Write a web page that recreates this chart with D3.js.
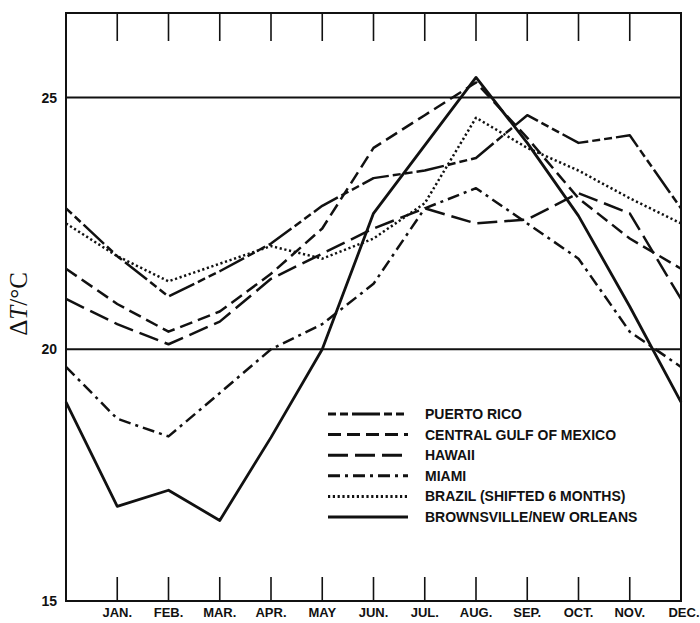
<!DOCTYPE html>
<html>
<head>
<meta charset="utf-8">
<script src="https://cdn.jsdelivr.net/npm/d3@7"></script>
<style>
  body { margin: 0; background: #fff; }
  svg { display: block; }
  .lbl { font-family: "Liberation Sans Narrow", "Liberation Sans", Arial, sans-serif; font-weight: bold; fill: #111; }
</style>
</head>
<body>
<div id="chart"></div>
<script>
// month labels, Jan..Dec
var months = ["JAN.", "FEB.", "MAR.", "APR.", "MAY", "JUN.", "JUL.", "AUG.", "SEP.", "OCT.", "NOV.", "DEC."];
var yTicks = [15, 20, 25];

// monthly delta T (deg C), Jan..Dec
var puertoRico  = [21.85, 21.05, 21.55, 22.1, 22.85, 23.4, 23.55, 23.8, 24.65, 24.1, 24.25, 22.8];
var centralGulf = [20.9, 20.35, 20.75, 21.5, 22.4, 24.0, 24.65, 25.3, 24.2, 23.0, 22.2, 21.6];
var hawaii      = [20.5, 20.1, 20.55, 21.4, 21.9, 22.4, 22.8, 22.5, 22.58, 23.1, 22.7, 21.0];
var miami       = [18.62, 18.27, 19.13, 20.0, 20.5, 21.3, 22.8, 23.2, 22.5, 21.8, 20.35, 19.65];
var brazil      = [21.85, 21.35, 21.7, 22.05, 21.8, 22.2, 22.9, 24.6, 24.0, 23.55, 23.0, 22.5];
var brownsville = [16.88, 17.2, 16.6, 18.25, 20.0, 22.7, 24.05, 25.4, 24.1, 22.65, 20.85, 18.95];

var seriesNames = ["PUERTO RICO", "CENTRAL GULF OF MEXICO", "HAWAII", "MIAMI",
                   "BRAZIL (SHIFTED 6 MONTHS)", "BROWNSVILLE/NEW ORLEANS"];
var seriesValues = [puertoRico, centralGulf, hawaii, miami, brazil, brownsville];
var seriesDash = ["8,4,8,4,28,4", "13,6", "20,7", "12,5,3,5", "2.2,2.6", null];
var seriesWidth = [2.5, 2.5, 2.5, 2.5, 2.5, 2.8];

(function() {
  var width = 700, height = 623;
  var padL = 66, padR = 681, padT = 13, padB = 601;

  var svg = d3.select("#chart").append("svg")
      .attr("width", width)
      .attr("height", height);

  // x: 0 = previous December (left frame), 1..12 = Jan..Dec
  var x = d3.scaleLinear().domain([0, 12]).range([padL, padR]);
  var y = d3.scaleLinear().domain([15, 26.68]).range([padB, padT]);

  // horizontal reference lines
  svg.selectAll("line.grid")
      .data([20, 25])
    .enter().append("line")
      .attr("class", "grid")
      .attr("x1", padL).attr("x2", padR)
      .attr("y1", function(d) { return y(d); })
      .attr("y2", function(d) { return y(d); })
      .attr("stroke", "#111")
      .attr("stroke-width", 2);

  // month ticks, top and bottom
  var tickMonths = d3.range(1, 12);
  svg.selectAll("line.ttop")
      .data(tickMonths)
    .enter().append("line")
      .attr("x1", function(d) { return x(d); })
      .attr("x2", function(d) { return x(d); })
      .attr("y1", padT).attr("y2", padT + 28)
      .attr("stroke", "#111").attr("stroke-width", 1.6);
  svg.selectAll("line.tbot")
      .data(tickMonths)
    .enter().append("line")
      .attr("x1", function(d) { return x(d); })
      .attr("x2", function(d) { return x(d); })
      .attr("y1", padB).attr("y2", padB - 24)
      .attr("stroke", "#111").attr("stroke-width", 1.6);

  // data lines
  var line = d3.line()
      .x(function(d) { return x(d[0]); })
      .y(function(d) { return y(d[1]); });

  seriesValues.forEach(function(vals, i) {
    var pts = [[0, vals[11]]].concat(vals.map(function(v, j) { return [j + 1, v]; }));
    svg.append("path")
        .datum(pts)
        .attr("d", line)
        .attr("fill", "none")
        .attr("stroke", "#111")
        .attr("stroke-width", seriesWidth[i])
        .attr("stroke-dasharray", seriesDash[i])
        .attr("stroke-linejoin", "round");
  });

  // frame
  svg.append("rect")
      .attr("x", padL).attr("y", padT)
      .attr("width", padR - padL).attr("height", padB - padT)
      .attr("fill", "none")
      .attr("stroke", "#111")
      .attr("stroke-width", 2);

  // y tick labels
  svg.selectAll("text.ytick")
      .data(yTicks)
    .enter().append("text")
      .attr("class", "lbl")
      .attr("x", 57)
      .attr("y", function(d) { return y(d); })
      .attr("dy", "0.36em")
      .attr("text-anchor", "end")
      .style("font-size", "14px")
      .text(function(d) { return d; });

  // month labels
  svg.selectAll("text.month")
      .data(months)
    .enter().append("text")
      .attr("class", "lbl")
      .attr("x", function(d, i) { return x(i + 1) + (i === 11 ? 3 : 0); })
      .attr("y", 617)
      .attr("text-anchor", "middle")
      .style("font-size", "13px")
      .text(function(d) { return d; });

  // y axis title
  var yt = svg.append("text")
      .attr("transform", "translate(27,304) rotate(-90)")
      .attr("text-anchor", "middle")
      .style("font-family", "'Liberation Serif', 'DejaVu Serif', serif")
      .style("font-size", "25px")
      .attr("fill", "#111");
  yt.append("tspan").text("\u0394");
  yt.append("tspan").style("font-style", "italic").text("T");
  yt.append("tspan").text("/\u00B0C");

  // legend
  var legY = d3.scaleLinear().domain([0, 5]).range([414, 517]);
  var leg = svg.selectAll("g.leg")
      .data(seriesNames)
    .enter().append("g")
      .attr("transform", function(d, i) { return "translate(0," + legY(i) + ")"; });
  leg.append("line")
      .attr("x1", 328).attr("x2", 408)
      .attr("stroke", "#111")
      .attr("stroke-width", 3)
      .attr("stroke-dasharray", function(d, i) { return seriesDash[i]; });
  leg.append("text")
      .attr("class", "lbl")
      .attr("x", 425)
      .attr("dy", "0.36em")
      .style("font-size", "14px")
      .text(function(d) { return d; });
})();
</script>
</body>
</html>
